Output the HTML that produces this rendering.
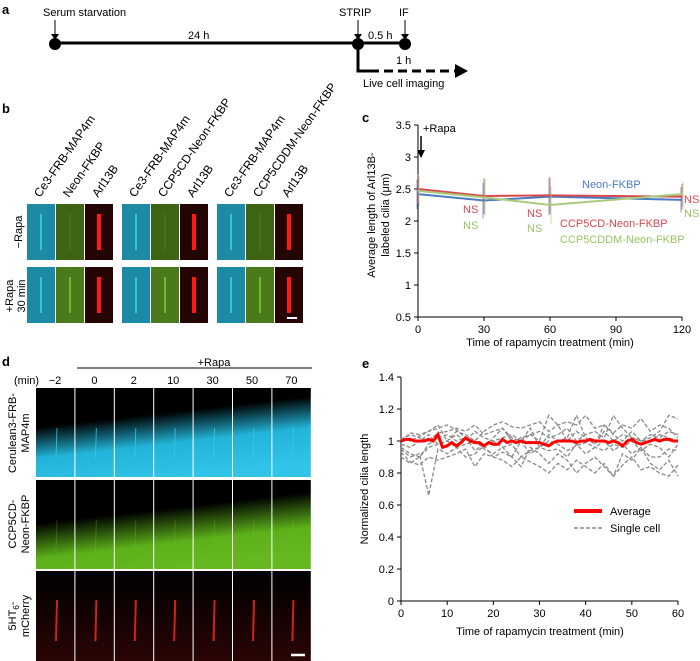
<!DOCTYPE html>
<html><head><meta charset="utf-8"><style>
body{margin:0;background:#fff}
svg{display:block;font-family:"Liberation Sans",sans-serif}
</style></head><body>
<svg id="fig" width="700" height="661" viewBox="0 0 700 661">
<defs>
<linearGradient id="gc" gradientUnits="userSpaceOnUse" x1="170" y1="390" x2="180" y2="478"><stop offset="0.25" stop-color="#000"/><stop offset="0.6" stop-color="#22b4d8"/><stop offset="1" stop-color="#30c4e8"/></linearGradient>
<linearGradient id="gg" gradientUnits="userSpaceOnUse" x1="170" y1="482" x2="180" y2="568"><stop offset="0.3" stop-color="#000"/><stop offset="0.7" stop-color="#5cb01a"/><stop offset="1" stop-color="#66b820"/></linearGradient>
<linearGradient id="gr" x1="0" y1="0" x2="0" y2="1"><stop offset="0" stop-color="#000"/><stop offset="1" stop-color="#2a0505"/></linearGradient>
</defs>
<!-- panel a -->
<g font-size="11">
<text x="2" y="14" font-weight="bold" font-size="13">a</text>
<text x="43" y="16">Serum starvation</text>
<line x1="55" y1="20" x2="55" y2="36" stroke="#000"/><path d="M51,34 L59,34 L55,40z"/>
<line x1="55" y1="43" x2="405" y2="43" stroke="#000" stroke-width="3"/>
<circle cx="55" cy="44" r="6"/><circle cx="358" cy="44" r="6"/><circle cx="405" cy="44" r="6"/>
<text x="188" y="39">24 h</text>
<text x="339" y="16">STRIP</text><text x="399" y="16">IF</text>
<line x1="358" y1="20" x2="358" y2="36" stroke="#000"/><path d="M354,34 L362,34 L358,40z"/>
<line x1="405" y1="20" x2="405" y2="36" stroke="#000"/><path d="M401,34 L409,34 L405,40z"/>
<text x="368" y="39">0.5 h</text>
<polyline points="358,44 358,71 370,71" fill="none" stroke="#000" stroke-width="3"/>
<line x1="370" y1="71" x2="455" y2="71" stroke="#000" stroke-width="3" stroke-dasharray="9,5"/>
<path d="M455,64 L468,71 L455,78z"/>
<text x="396" y="64">1 h</text>
<text x="363" y="87">Live cell imaging</text>
</g>
<!-- panel b -->
<g font-size="11">
<text x="2" y="113" font-weight="bold" font-size="13">b</text>
<text transform="translate(22,232) rotate(-90)" text-anchor="middle">−Rapa</text>
<text transform="translate(13,296) rotate(-90)" text-anchor="middle">+Rapa</text>
<text transform="translate(25,296) rotate(-90)" text-anchor="middle">30 min</text>
<g id="bTiles"></g>
</g>
<!-- panel c -->
<g font-size="11">
<text x="362" y="122" font-weight="bold" font-size="13">c</text>
<g id="cAxes"></g><g id="cMarks"></g>
<text x="423" y="132">+Rapa</text>
<line x1="421" y1="136" x2="421" y2="152" stroke="#000" stroke-width="1.5"/><path d="M417,150 L425,150 L421,158z"/>
<text x="582" y="188" fill="#4a7cc4">Neon-FKBP</text>
<text x="560" y="227" fill="#d9484d">CCP5CD-Neon-FKBP</text>
<text x="560" y="243" fill="#9cc264">CCP5CDDM-Neon-FKBP</text>
<text x="463" y="213" fill="#d9484d">NS</text><text x="463" y="229" fill="#9cc264">NS</text>
<text x="527" y="217" fill="#d9484d">NS</text><text x="527" y="232" fill="#9cc264">NS</text>
<text x="684" y="203" fill="#d9484d">NS</text><text x="684" y="217" fill="#9cc264">NS</text>
<text transform="translate(375,215) rotate(-90)" text-anchor="middle">Average length of Arl13B-</text>
<text transform="translate(389,215) rotate(-90)" text-anchor="middle">labeled cilia (μm)</text>
<text x="550" y="346" text-anchor="middle">Time of rapamycin treatment (min)</text>
</g>
<!-- panel d -->
<g font-size="10">
<text x="2" y="366" font-weight="bold" font-size="13">d</text>
<text x="214" y="366" text-anchor="middle" font-size="11">+Rapa</text>
<line x1="77" y1="368" x2="312" y2="368" stroke="#000"/>
<text x="14" y="384" font-size="11">(min)</text>
<g id="dTiles"></g>
<text transform="translate(16,433) rotate(-90)" text-anchor="middle" font-size="11">Cerulean3-FRB-</text>
<text transform="translate(29,433) rotate(-90)" text-anchor="middle" font-size="11">MAP4m</text>
<text transform="translate(16,524) rotate(-90)" text-anchor="middle" font-size="11">CCP5CD-</text>
<text transform="translate(29,524) rotate(-90)" text-anchor="middle" font-size="11">Neon-FKBP</text>
<text transform="translate(16,616) rotate(-90)" text-anchor="middle" font-size="11">5HT<tspan font-size="8" dy="3">6</tspan><tspan dy="-3">-</tspan></text>
<text transform="translate(29,616) rotate(-90)" text-anchor="middle" font-size="11">mCherry</text>
</g>
<!-- panel e -->
<g font-size="11">
<text x="362" y="368" font-weight="bold" font-size="13">e</text>
<g id="eAxes"></g><g id="eMarks"></g>
<line x1="574" y1="511" x2="602" y2="511" stroke="#f00" stroke-width="4"/>
<text x="610" y="515">Average</text>
<line x1="574" y1="528" x2="602" y2="528" stroke="#888" stroke-width="1.5" stroke-dasharray="4,2"/>
<text x="610" y="532">Single cell</text>
<text transform="translate(368,489) rotate(-90)" text-anchor="middle">Normalized cilia length</text>
<text x="540" y="635" text-anchor="middle">Time of rapamycin treatment (min)</text>
</g>
</svg>
<script>
// ---- data ----
const cTimes=[0,30,60,120];
const cNeon=[2.42,2.32,2.38,2.33];
const cCD=[2.50,2.39,2.40,2.38];
const cCDDM=[2.47,2.37,2.25,2.42];
const cErr=[0.23,0.28,0.29,0.2];
const cYTicks=[0.5,1,1.5,2,2.5,3,3.5];
const cXTicks=[0,30,60,90,120];
const eXTicks=[0,10,20,30,40,50,60];
const eYTicks=[0,0.2,0.4,0.6,0.8,1,1.2,1.4];
const eAvg=[1.0,1.01,1.01,1.0,1.0,1.0,1.01,1.0,1.04,0.96,0.97,0.99,0.97,0.99,1.02,1.0,0.99,0.99,0.97,0.99,0.98,0.98,1.01,0.99,1.0,0.99,1.0,0.99,0.99,0.99,0.99,0.98,0.97,0.99,1.0,1.0,1.0,1.0,0.99,1.0,1.0,1.01,1.0,1.0,1.0,0.99,1.0,0.99,0.97,1.0,1.01,0.99,0.98,0.99,1.0,1.01,1.0,1.01,1.01,1.0,1.0];
const eCells=[
[1.0,1.05,1.04,1.06,1.08,1.1,1.07,1.02,1.0,1.06,1.1,1.12,1.09,1.08,1.1,1.12,1.06,1.1,1.12,1.1,1.16,1.08,1.1,1.05,1.1,1.08,1.14,1.06,1.1,1.08,1.02],
[0.98,0.96,1.0,1.04,0.98,1.0,1.06,1.04,1.0,0.96,1.02,1.08,1.0,1.02,1.04,1.0,1.16,1.1,1.0,1.06,1.02,0.98,1.1,1.04,1.0,1.06,1.0,1.02,1.06,1.16,1.14],
[0.95,0.9,0.92,0.66,0.95,0.92,0.96,0.9,0.92,0.97,0.9,0.93,0.9,1.0,0.92,0.96,0.94,0.95,0.9,0.98,0.92,0.96,1.0,0.94,0.98,0.92,0.96,0.9,0.9,0.95,0.94],
[0.93,0.87,0.85,0.9,0.88,0.9,0.92,0.95,0.84,0.92,0.9,0.88,0.84,0.9,0.87,0.84,0.8,0.86,0.82,0.88,0.84,0.8,0.86,0.78,0.85,0.9,0.82,0.84,0.8,0.78,0.85],
[1.02,1.0,1.03,1.06,1.1,1.0,1.04,1.0,1.06,1.02,1.0,1.02,1.04,1.0,1.08,0.96,1.04,1.0,1.02,1.16,1.02,0.98,1.06,1.0,1.04,1.02,1.0,1.0,1.04,1.02,1.0],
[0.96,0.92,0.9,0.98,1.02,1.04,1.0,1.02,0.94,0.98,1.0,0.96,0.9,0.84,0.96,0.92,0.86,0.92,0.88,0.8,0.86,0.9,0.84,0.78,0.92,0.88,0.96,0.86,0.82,0.88,0.78],
[1.01,1.04,1.02,1.0,1.05,1.06,1.08,1.06,1.1,1.04,1.06,1.08,1.02,1.0,1.04,1.06,1.02,1.04,1.08,1.0,1.04,1.06,1.02,1.16,1.08,1.02,1.0,1.04,1.02,1.06,1.04],
[0.9,0.86,0.9,0.96,0.98,1.0,0.96,0.98,1.0,0.95,0.92,0.96,0.98,0.9,0.94,0.96,1.0,0.98,0.94,0.97,0.99,0.96,0.94,0.98,0.96,1.0,0.94,0.98,0.96,0.9,0.98]
];
const dTimes=["−2","0","2","10","30","50","70"];
const bLabels=[["Ce3-FRB-MAP4m","Neon-FKBP","Arl13B"],["Ce3-FRB-MAP4m","CCP5CD-Neon-FKBP","Arl13B"],["Ce3-FRB-MAP4m","CCP5CDDM-Neon-FKBP","Arl13B"]];
// ---- helpers ----
const NS="http://www.w3.org/2000/svg";
function mk(tag,attrs,parent,txt){const e=document.createElementNS(NS,tag);for(const k in attrs)e.setAttribute(k,attrs[k]);if(txt!==undefined)e.textContent=txt;parent.appendChild(e);return e;}
// ---- panel c ----
const cx=v=>418+(v/30)*66, cy=v=>317-(v-0.5)*64;
const cA=document.getElementById('cAxes'), cM=document.getElementById('cMarks');
let a=mk('line',{x1:418,y1:cy(3.5),x2:418,y2:317,stroke:'#000'},cA);


a=mk('line',{x1:418,y1:317,x2:cx(120),y2:317,stroke:'#000'},cA);


cYTicks.forEach(t=>{mk('line',{x1:414,x2:418,y1:cy(t),y2:cy(t),stroke:'#000'},cA);const e=mk('text',{x:411,y:cy(t)+4,'text-anchor':'end'},cA,String(t));

});
cXTicks.forEach(t=>{mk('line',{x1:cx(t),x2:cx(t),y1:317,y2:321,stroke:'#000'},cA);const e=mk('text',{x:cx(t),y:333,'text-anchor':'middle'},cA,String(t));

});
[[cNeon,'#4a7cc4','neon'],[cCD,'#d9484d','ccp5cd'],[cCDDM,'#a8cc7a','ccp5cddm']].forEach(([s,col,n],si)=>{
 s.forEach((v,i)=>{const off=(si-1)*1;const e=mk('line',{x1:cx(cTimes[i])+off,x2:cx(cTimes[i])+off,y1:cy(v-cErr[i]),y2:cy(v+cErr[i]),stroke:col,'stroke-width':1,opacity:0.7},cM);
 
 });
 const p=mk('polyline',{points:s.map((v,i)=>cx(cTimes[i])+','+cy(v)).join(' '),fill:'none',stroke:col,'stroke-width':2},cM);
 
 
});
// ---- panel e ----
const ex=v=>401+(v/60)*277, ey=v=>601-v*160;
const eA=document.getElementById('eAxes'), eM=document.getElementById('eMarks');
a=mk('line',{x1:401,y1:ey(1.4),x2:401,y2:601,stroke:'#000'},eA);


a=mk('line',{x1:401,y1:601,x2:ex(60),y2:601,stroke:'#000'},eA);


eYTicks.forEach(t=>{mk('line',{x1:397,x2:401,y1:ey(t),y2:ey(t),stroke:'#000'},eA);const e=mk('text',{x:394,y:ey(t)+4,'text-anchor':'end'},eA,String(t));

});
eXTicks.forEach(t=>{mk('line',{x1:ex(t),x2:ex(t),y1:601,y2:605,stroke:'#000'},eA);const e=mk('text',{x:ex(t),y:617,'text-anchor':'middle'},eA,String(t));

});
eCells.forEach((s,ci)=>{const st=60/(s.length-1);const p=mk('polyline',{points:s.map((v,i)=>ex(i*st)+','+ey(v)).join(' '),fill:'none',stroke:'#8a8a8a','stroke-width':1.3,'stroke-dasharray':'4,2'},eM);

});
{const st=60/(eAvg.length-1);const p=mk('polyline',{points:eAvg.map((v,i)=>ex(i*st)+','+ey(v)).join(' '),fill:'none',stroke:'#f00','stroke-width':3},eM);

}
// ---- panel b tiles ----
const bT=document.getElementById('bTiles');
const bCols=['#1c8aa4','#4a7a1a','#250404'];
const gx=[27,122,217];
bLabels.forEach((grp,g)=>grp.forEach((lab,k)=>{
 const x=gx[g]+k*29;
 const t=mk('text',{transform:`translate(${x+13},198) rotate(-55)`,'font-size':12},bT,lab);
 
 
 [204,267].forEach((y,r)=>{
  const rc=mk('rect',{x:x,y:y,width:28,height:56,fill:k==1&&r==0?'#3e6414':bCols[k]},bT);
  
  
  const col=k==0?'#3fd8f0':k==1?(r==1?'#7bd040':'#4a7a1a'):'#ff1a10';
  mk('line',{x1:x+14,y1:y+10,x2:x+14,y2:y+46,stroke:col,'stroke-width':k==2?4:1.5},bT);
 });
}));
mk('line',{x1:287,y1:318,x2:297,y2:318,stroke:'#fff','stroke-width':2},bT);
// ---- panel d tiles ----
const dT=document.getElementById('dTiles');
dTimes.forEach((tl,i)=>{
 const x=36+i*39.4;
 const t=mk('text',{x:x+19,y:384,'text-anchor':'middle','font-size':11},dT,tl);
 
 
 [[388,'url(#gc)','#3ac8e8'],[480,'url(#gg)','#6fc030'],[571,'url(#gr)','#ff2a20']].forEach(([y,f,c],r)=>{
  const rc=mk('rect',{x:x,y:y,width:38.4,height:r==2?90:89,fill:f},dT);
  
  
  mk('line',{x1:x+21,y1:y+(r==2?29:40),x2:x+20,y2:y+(r==2?70:70),stroke:c,'stroke-width':r==2?2:1,opacity:r==1?0.3:0.8},dT);
 });
});
mk('line',{x1:291,y1:655,x2:305,y2:655,stroke:'#fff','stroke-width':2.5},dT);
</script>
</body></html>
